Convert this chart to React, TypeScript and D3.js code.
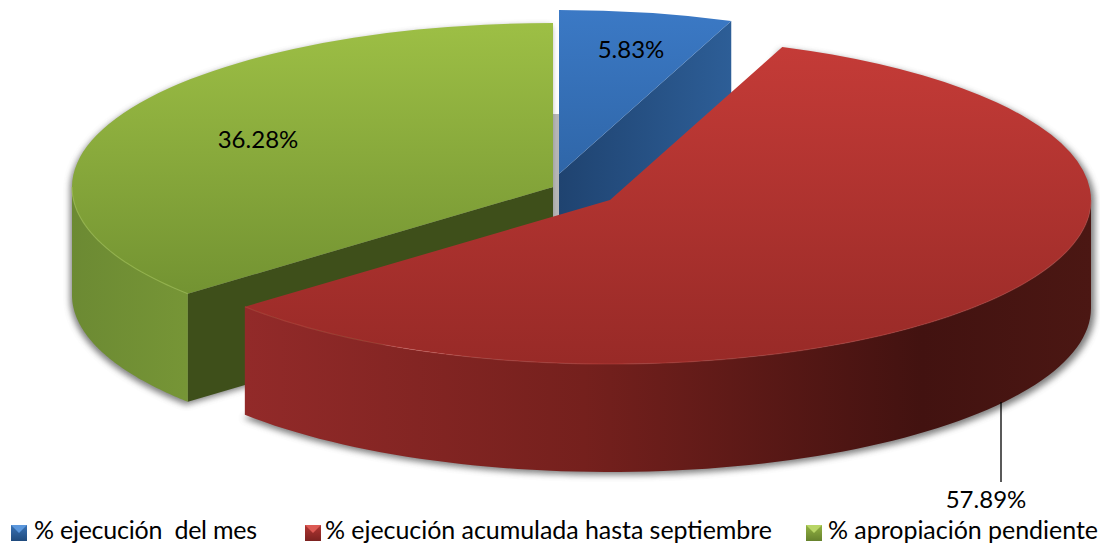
import React from "react";
import * as d3 from "d3";

const categories = ["% ejecución  del mes", "% ejecución acumulada hasta septiembre", "% apropiación pendiente"];
const values = [5.83, 57.89, 36.28];
const labels = ["5.83%", "57.89%", "36.28%"];

const W = 1100, H = 543;
const RX = 481, RY = 164, DEPTH = 108;
const centers = [
  { x: 559, y: 174 },
  { x: 610, y: 200 },
  { x: 553, y: 187 },
];
const FONT = "Lato, 'Open Sans', sans-serif";

const slices = d3.pie<number>().sort(null)(values);

const rim = (c: { x: number; y: number }, a: number, dy = 0): [number, number] => [
  c.x + RX * Math.sin(a),
  c.y - RY * Math.cos(a) + dy,
];
const lineGen = d3.line();

function topPath(i: number) {
  const s = slices[i];
  return d3.arc()({ innerRadius: 0, outerRadius: RX, startAngle: s.startAngle, endAngle: s.endAngle } as any) as string;
}
function wallPath(i: number) {
  const s = slices[i];
  const a0 = Math.max(s.startAngle, Math.PI / 2);
  const a1 = Math.min(s.endAngle, (3 * Math.PI) / 2);
  const angles = d3.range(0, 81).map((k) => a0 + ((a1 - a0) * k) / 80);
  const upper = angles.map((a) => rim(centers[i], a));
  const lower = angles.slice().reverse().map((a) => rim(centers[i], a, DEPTH));
  return lineGen([...upper, ...lower]) + "Z";
}
function cutPath(i: number, a: number) {
  const c = centers[i];
  return lineGen([[c.x, c.y], rim(c, a), rim(c, a, DEPTH), [c.x, c.y + DEPTH]]) + "Z";
}
function silhouette(i: number) {
  const s = slices[i];
  const c = centers[i];
  const angles = d3.range(0, 121).map((k) => s.startAngle + ((s.endAngle - s.startAngle) * k) / 120);
  return lineGen([[c.x, c.y + DEPTH], ...angles.map((a) => rim(c, a, Math.cos(a) < 0 ? DEPTH : 0))]) + "Z";
}

const legendX = [11, 305, 806];
const legendTextX = [34, 325, 828];
const legendTextLen = [223, 447, 270];
const legendColors = [
  ["#5b97dc", "#3a72b5", "#1f4a7d"],
  ["#dc5a54", "#b23633", "#7c2220"],
  ["#b8d566", "#93b343", "#66822d"],
];

export default function App() {
  const red = slices[1];
  const green = slices[2];
  const blue = slices[0];
  return (
    <svg width={W} height={H} viewBox={`0 0 ${W} ${H}`} style={{ position: "absolute", left: 0, top: 0, background: "#fff" }}>
      <defs>
        <filter id="blur" x="-5%" y="-5%" width="110%" height="110%">
          <feGaussianBlur stdDeviation="3" />
        </filter>
        <linearGradient id="blueTop" x1="0" y1="0" x2="0" y2="1">
          <stop offset="0" stopColor="#3b79c5" />
          <stop offset="1" stopColor="#2f66a8" />
        </linearGradient>
        <linearGradient id="blueCut" gradientUnits="userSpaceOnUse" x1="559" y1="0" x2="732" y2="0">
          <stop offset="0" stopColor="#1f4370" />
          <stop offset="1" stopColor="#2d5e97" />
        </linearGradient>
        <linearGradient id="redTop" x1="0" y1="0" x2="0" y2="1">
          <stop offset="0" stopColor="#c43b37" />
          <stop offset="1" stopColor="#982a27" />
        </linearGradient>
        <linearGradient id="redWall" gradientUnits="userSpaceOnUse" x1="246" y1="0" x2="1091" y2="0">
          <stop offset="0" stopColor="#922a29" />
          <stop offset="0.4" stopColor="#75201d" />
          <stop offset="0.8" stopColor="#421210" />
          <stop offset="1" stopColor="#4b1713" />
        </linearGradient>
        <linearGradient id="greenTop" x1="0" y1="0" x2="0" y2="1">
          <stop offset="0" stopColor="#9dbf45" />
          <stop offset="1" stopColor="#739332" />
        </linearGradient>
        <linearGradient id="greenWall" gradientUnits="userSpaceOnUse" x1="72" y1="0" x2="186" y2="0">
          <stop offset="0" stopColor="#6c8a33" />
          <stop offset="1" stopColor="#769536" />
        </linearGradient>
        {legendColors.map((c, i) => (
          <linearGradient key={i} id={`sw${i}`} x1="0" y1="0" x2="0" y2="1">
            <stop offset="0" stopColor={c[1]} />
            <stop offset="1" stopColor={c[2]} />
          </linearGradient>
        ))}
      </defs>

      <rect x={553} y={114} width={7} height={105} fill="#b8b8b8" />
      <g filter="url(#blur)" fill="#555" opacity={0.75}>
        {[2, 1].map((i) => (
          <path key={i} d={silhouette(i)} transform="translate(-2,3)" />
        ))}
        <path d={silhouette(1)} transform="translate(4,3)" />
      </g>

      {/* blue slice */}
      <path d={cutPath(0, blue.endAngle)} fill="url(#blueCut)" />
      <path d={topPath(0)} transform={`translate(${centers[0].x},${centers[0].y}) scale(1,${RY / RX})`} fill="url(#blueTop)" />

      {/* green slice */}
      <path d={cutPath(2, green.startAngle)} fill="#3e4f1a" />
      <path d={wallPath(2)} fill="url(#greenWall)" />
      <g transform={`translate(${centers[2].x},${centers[2].y}) scale(1,${RY / RX})`}>
        <path d={topPath(2)} fill="url(#greenTop)" />
      </g>
      <path
        d={lineGen(d3.range(0, 31).map((k) => rim(centers[2], green.startAngle + ((1.5 * Math.PI - green.startAngle) * k) / 30)))!}
        fill="none"
        stroke="#a3c455"
        strokeOpacity={0.6}
        strokeWidth={1.2}
      />

      {/* red slice */}
      <path d={wallPath(1)} fill="url(#redWall)" />
      <g transform={`translate(${centers[1].x},${centers[1].y}) scale(1,${RY / RX})`}>
        <path d={topPath(1)} fill="url(#redTop)" />
      </g>
      <path
        d={lineGen(d3.range(0, 121).map((k) => rim(centers[1], Math.PI / 2 + ((red.endAngle - Math.PI / 2) * k) / 120)))!}
        fill="none"
        stroke="#c9504b"
        strokeOpacity={0.4}
        strokeWidth={1.2}
      />

      {/* data labels */}
      <g fontFamily={FONT} fontSize={24} fill="#000" textAnchor="middle">
        <text x={631} y={58}>{labels[0]}</text>
        <text x={258} y={148}>{labels[2]}</text>
        <text x={986} y={508}>{labels[1]}</text>
      </g>
      <line x1={1001} x2={1001} y1={402} y2={482} stroke="#000" strokeWidth={1.3} />

      {/* legend */}
      {categories.map((c, i) => {
        const x = legendX[i], y = 525, s = 16;
        return (
          <g key={c}>
            <rect x={x} y={y} width={s} height={s} fill={`url(#sw${i})`} />
            <path d={lineGen([[x, y], [x + s, y], [x + s / 2, y + s / 2]]) + "Z"} fill={legendColors[i][0]} />
            <text
              x={legendTextX[i]}
              y={539}
              fontFamily={FONT}
              fontSize={25}
              fill="#000"
              textLength={legendTextLen[i]}
              lengthAdjust="spacing"
              style={{ whiteSpace: "pre" }}
            >
              {c}
            </text>
          </g>
        );
      })}
    </svg>
  );
}
